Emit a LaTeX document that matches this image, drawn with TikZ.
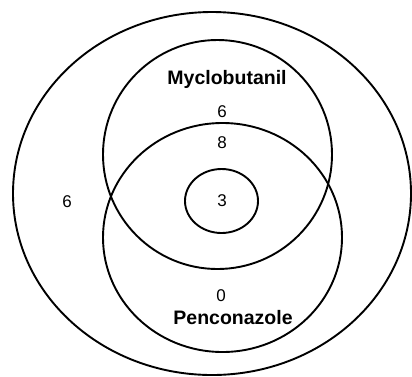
\documentclass[tikz,border=0pt]{standalone}
\usepackage{fontspec}
\setmainfont{Liberation Sans}
\begin{document}
\begin{tikzpicture}[x=1pt,y=-1pt,
  ring/.style={draw=black,line width=1.9pt},
  lab/.style={font=\fontsize{19.5}{19.5}\selectfont\bfseries,inner sep=0pt},
  num/.style={font=\fontsize{17}{17}\selectfont,inner sep=0pt}]
\useasboundingbox (0,0) rectangle (412,376);
\draw[ring] (212,193.5) ellipse[x radius=199,y radius=181.5];
\draw[ring] (217.5,154.5) ellipse[x radius=114.5,y radius=114.5];
\draw[ring] (222.5,237.5) ellipse[x radius=119.5,y radius=114.5];
\draw[ring] (221.5,201) ellipse[x radius=36.5,y radius=32];
\node[lab] (myc) at (227,79) {Myclobutanil};
\node[lab] (pen) at (233,318) {Penconazole};
\node[num] (m) at (222,112) {6};
\node[num] (mp) at (222,143) {8};
\node[num] (c) at (222,201) {3};
\node[num] (o) at (67,202) {6};
\node[num] (p) at (221,296) {0};
\end{tikzpicture}
\end{document}
